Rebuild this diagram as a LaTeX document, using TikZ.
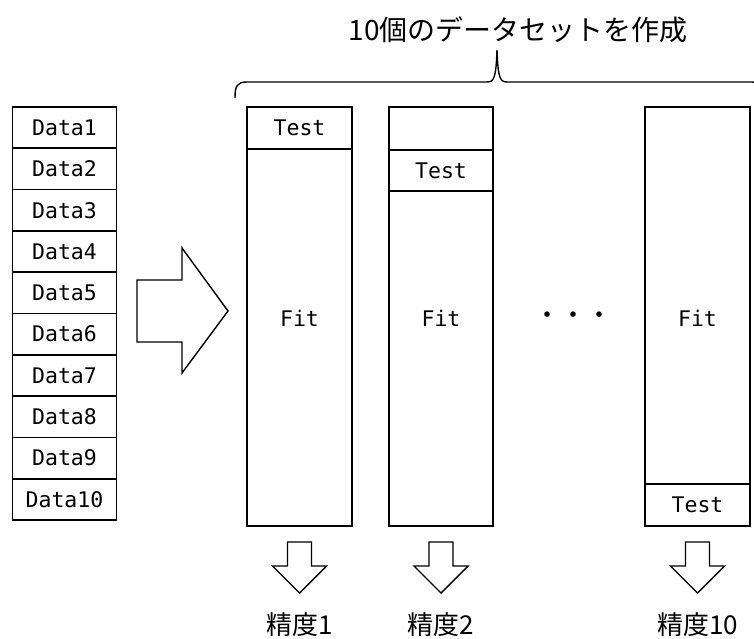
\documentclass[tikz,border=0pt]{standalone}
\usepackage{fontspec}
\newfontfamily\monofnt{DejaVu Sans Mono}
\newfontfamily\cjkfnt{Noto Sans CJK JP}
\begin{document}
\begin{tikzpicture}[x=1pt,y=-1pt,
  box/.style={draw,line width=1.7pt,inner sep=0pt,font=\monofnt\fontsize{21.5}{24}\selectfont},
  fattext/.style={inner sep=0pt,font=\monofnt\fontsize{21.5}{24}\selectfont},
  jlabel/.style={inner sep=0pt,font=\cjkfnt\fontsize{26}{30}\selectfont},
  jtitle/.style={inner sep=0pt,font=\cjkfnt\fontsize{28}{32}\selectfont},
  blockarrow/.style={draw,line width=1.4pt,fill=white,line join=miter}]
\useasboundingbox (0,0) rectangle (754,639);
\fill[white] (0,0) rectangle (754,639);
% data list
\foreach \i in {1,...,10}{
  \node[box,minimum width=104pt,minimum height=41.3pt] (d\i) at (64.5,{107+(\i-0.5)*41.3}) {Data\i};
}
% big arrow
\draw[blockarrow] (137,280) -- (182,280) -- (182,248) -- (228,311) -- (182,373) -- (182,342) -- (137,342) -- cycle;
% columns
\node[box,minimum width=105pt,minimum height=419pt] (c1) at (299.5,316.5) {};
\node[box,minimum width=105pt,minimum height=42pt] (t1) at (299.5,128) {Test};
\node[fattext] (f1) at (299.5,318) {Fit};
\node[box,minimum width=104pt,minimum height=419pt] (c2) at (441,316.5) {};
\node[box,minimum width=104pt,minimum height=41pt] (t2) at (441,170.5) {Test};
\node[fattext] (f2) at (441,318) {Fit};
\node[box,minimum width=105pt,minimum height=419pt] (c3) at (697.5,316.5) {};
\node[box,minimum width=105pt,minimum height=42pt] (t3) at (697.5,505) {Test};
\node[fattext] (f3) at (697.5,318) {Fit};
\node[jlabel] (dots) at (573,318) {・・・};
% down arrows
\foreach \cx/\n in {299.5/1,441/2,697.5/3}{
  \draw[blockarrow] (\cx-12,542) -- (\cx+12,542) -- (\cx+12,566) -- (\cx+27,566) -- (\cx,593) -- (\cx-27,566) -- (\cx-12,566) -- cycle;
}
\node[jlabel] (a1) at (299.5,625) {精度1};
\node[jlabel] (a2) at (441,625) {精度2};
\node[jlabel] (a3) at (697.5,625) {精度10};
% brace
\draw[line width=1.4pt] (235,98) .. controls (235,86) and (237,82) .. (247,82) -- (487,82)
  .. controls (494,82) and (496,78) .. (497,50)
  .. controls (498,78) and (500,82) .. (507,82) -- (752,82)
  .. controls (759,82) and (761,86) .. (761,98);
\node[jtitle] (title) at (518,30) {10個のデータセットを作成};
\end{tikzpicture}
\end{document}
